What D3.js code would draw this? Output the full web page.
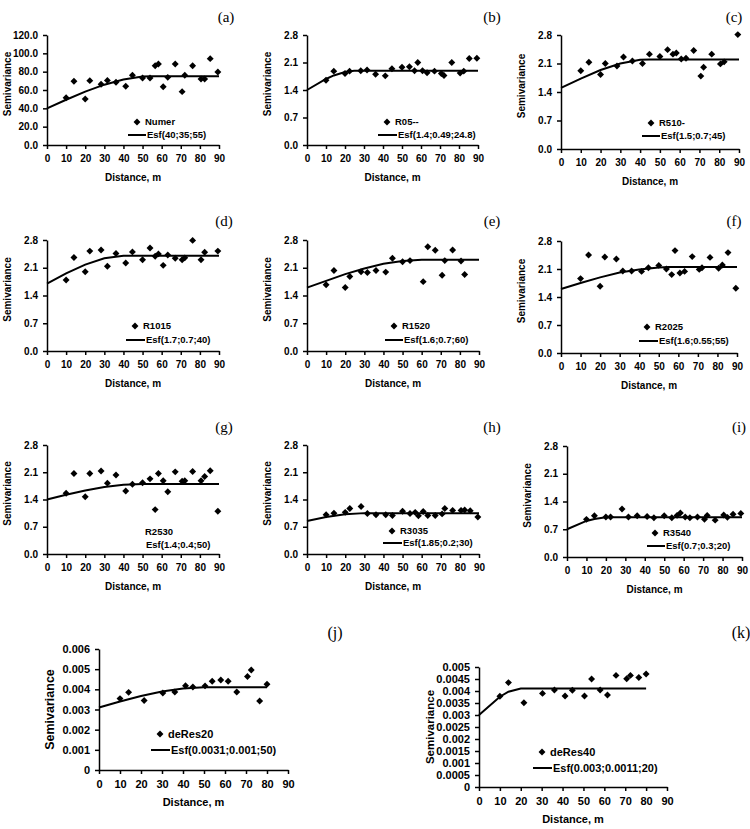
<!DOCTYPE html>
<html>
<head>
<meta charset="utf-8">
<script src="https://cdn.jsdelivr.net/npm/d3@7"></script>
<style>
  body { margin: 0; background: #fff; }
  .axis path, .axis line { stroke: #000; stroke-width: 1.5; }
  .axis text { font-weight: bold; fill: #000; }
</style>
</head>
<body>
<div id="chart"></div>
<script>
// lag distances (m)
const lags = [10, 14.1, 20, 22.4, 28.3, 31.6, 36.1, 41.2, 44.7, 50, 53.9, 56.6, 58.3, 60.8, 63.2, 67.1, 70.7, 72.1, 76.2, 80.6, 82.5, 85.4, 89.4];
const lagsNo85 = [10, 14.1, 20, 22.4, 28.3, 31.6, 36.1, 41.2, 44.7, 50, 53.9, 56.6, 58.3, 60.8, 63.2, 67.1, 70.7, 72.1, 76.2, 80.6, 82.5, 89.4];
const lagsE = [10, 14.1, 20, 22.4, 28.3, 31.6, 36.1, 41.2, 44.7, 50, 53.9, 60.8, 63.2, 67.1, 70.7, 72.1, 76.2, 80.6, 82.5];
const lagsRes = [10, 14.1, 21.5, 30.4, 36.1, 41.2, 44.7, 50.5, 53.9, 58, 61.5, 65.6, 70.7, 72.5, 76.5, 80];

// experimental semivariances
const gamA = [51.6, 69.5, 50.2, 70.2, 66.2, 70.5, 68.4, 64.0, 76.0, 73.1, 73.1, 86.5, 88.4, 63.6, 73.8, 88.4, 58.2, 76.0, 86.5, 72.0, 72.0, 94.2, 79.6];
const gamB = [1.65, 1.88, 1.82, 1.88, 1.89, 1.91, 1.80, 1.76, 1.94, 1.98, 1.99, 1.89, 2.10, 1.89, 1.84, 1.88, 1.82, 1.77, 2.10, 1.83, 1.88, 2.20, 2.21];
const gamC = [1.92, 2.13, 1.83, 2.10, 2.04, 2.26, 2.16, 2.10, 2.33, 2.27, 2.44, 2.33, 2.36, 2.21, 2.23, 2.42, 1.79, 2.01, 2.33, 2.09, 2.14, 2.81];
const gamD = [1.79, 2.36, 2.00, 2.52, 2.55, 2.14, 2.46, 2.22, 2.50, 2.30, 2.60, 2.39, 2.45, 2.16, 2.42, 2.34, 2.30, 2.35, 2.79, 2.30, 2.49, 2.52];
const gamE = [1.67, 2.03, 1.60, 1.88, 2.00, 1.98, 2.03, 1.99, 2.34, 2.25, 2.28, 1.75, 2.63, 2.54, 1.91, 2.28, 2.55, 2.27, 1.93];
const gamF = [1.86, 2.45, 1.67, 2.40, 2.35, 2.05, 2.05, 2.04, 2.13, 2.19, 2.10, 1.96, 2.56, 2.00, 2.04, 2.41, 2.09, 2.13, 2.39, 2.12, 2.20, 2.51, 1.62];
const gamG = [1.56, 2.07, 1.47, 2.07, 2.13, 1.82, 2.03, 1.62, 1.79, 1.83, 1.93, 1.14, 2.07, 1.88, 1.60, 2.11, 1.87, 1.88, 2.12, 1.88, 1.99, 2.14, 1.10];
const gamH = [1.01, 1.05, 1.07, 1.17, 1.22, 1.04, 1.01, 1.01, 0.99, 1.10, 1.04, 1.07, 0.98, 1.09, 0.99, 0.99, 1.03, 1.17, 1.12, 1.12, 1.13, 1.11, 0.95];
const gamI = [0.95, 1.04, 1.01, 1.01, 1.21, 1.01, 1.04, 1.02, 0.99, 1.04, 0.99, 1.05, 1.11, 1.01, 0.99, 1.01, 0.95, 1.05, 0.93, 1.06, 1.00, 1.08, 1.10];
const gamJ = [0.00354, 0.00385, 0.00345, 0.00382, 0.00387, 0.00418, 0.00412, 0.00417, 0.00440, 0.00446, 0.00440, 0.00387, 0.00464, 0.00496, 0.00342, 0.00425];
const gamK = [0.00378, 0.00435, 0.00351, 0.00390, 0.00404, 0.00379, 0.00403, 0.00379, 0.00450, 0.00404, 0.00383, 0.00465, 0.00451, 0.00465, 0.00456, 0.00471];

// fitted model lines (vertices)
const fitXA = [0, 10, 20, 30, 40, 50, 55, 90];
const fitYA = [40, 49.4, 58.2, 65.8, 71.5, 74.6, 75, 75];
const fitXB = [0, 10, 14.1, 20, 24.8, 90];
const fitYB = [1.4, 1.68, 1.77, 1.86, 1.89, 1.89];
const fitXC = [0, 10, 20, 30, 40, 45, 90];
const fitYC = [1.5, 1.73, 1.94, 2.10, 2.19, 2.2, 2.2];
const fitXD = [0, 10, 20, 30, 40, 90];
const fitYD = [1.7, 1.96, 2.18, 2.34, 2.4, 2.4];
const fitXE = [0, 10, 20, 30, 40, 50, 60, 90];
const fitYE = [1.6, 1.77, 1.94, 2.08, 2.20, 2.27, 2.3, 2.3];
const fitXF = [0, 10, 20, 30, 40, 50, 55, 90];
const fitYF = [1.6, 1.75, 1.89, 2.01, 2.09, 2.14, 2.15, 2.15];
const fitXG = [0, 10, 20, 30, 40, 50, 90];
const fitYG = [1.4, 1.52, 1.63, 1.72, 1.78, 1.8, 1.8];
const fitXH = [0, 10, 20, 30, 90];
const fitYH = [0.85, 0.95, 1.02, 1.05, 1.05];
const fitXI = [0, 10, 14.1, 20, 90];
const fitYI = [0.7, 0.91, 0.96, 1.0, 1.0];
const fitXJ = [0, 10, 20, 30, 40, 50, 80];
const fitYJ = [0.0031, 0.0034, 0.00367, 0.00389, 0.00404, 0.0041, 0.0041];
const fitXK = [0, 10, 14.1, 20, 80];
const fitYK = [0.003, 0.00376, 0.00397, 0.0041, 0.0041];

// ticks and labels
const xTicks = [0, 10, 20, 30, 40, 50, 60, 70, 80, 90];
const yTicksA = [0, 20, 40, 60, 80, 100, 120];
const yTicksR = [0, 0.7, 1.4, 2.1, 2.8];
const yTicksJ = [0, 0.001, 0.002, 0.003, 0.004, 0.005, 0.006];
const yTicksK = [0, 0.0005, 0.001, 0.0015, 0.002, 0.0025, 0.003, 0.0035, 0.004, 0.0045, 0.005];
const seriesNames = ["Numer", "R05--", "R510-", "R1015", "R1520", "R2025", "R2530", "R3035", "R3540", "deRes20", "deRes40"];
const fitNames = ["Esf(40;35;55)", "Esf(1.4;0.49;24.8)", "Esf(1.5;0.7;45)", "Esf(1.7;0.7;40)", "Esf(1.6;0.7;60)",
  "Esf(1.6;0.55;55)", "Esf(1.4;0.4;50)", "Esf(1.85;0.2;30)", "Esf(0.7;0.3;20)", "Esf(0.0031;0.001;50)", "Esf(0.003;0.0011;20)"];
const panelTags = ["(a)", "(b)", "(c)", "(d)", "(e)", "(f)", "(g)", "(h)", "(i)", "(j)", "(k)"];

const fmt1 = d => d.toFixed(1);
const fmtG = d => d === 0 ? "0" : String(+d.toFixed(4));

// layout per panel
const geo = [
  {l: 47, r: 219, t: 35, b: 145, tag: [226, 22], leg: [137, 122, 128, 146, 135]},
  {l: 307, r: 478, t: 35, b: 145, tag: [492, 22], leg: [387, 122, 378, 397, 135]},
  {l: 561, r: 739, t: 35, b: 149, tag: [734, 22], leg: [651, 123, 642, 660, 136]},
  {l: 47, r: 219, t: 240, b: 351, tag: [224, 226], leg: [135, 326, 126, 145, 340]},
  {l: 307, r: 479, t: 240, b: 351, tag: [492, 226], leg: [394, 326, 385, 403, 340]},
  {l: 561, r: 737, t: 241, b: 353, tag: [734, 226], leg: [647, 327, 639, 658, 341]},
  {l: 47, r: 219, t: 445, b: 554, tag: [224, 432], leg: [null, 532, 145, 145, 545]},
  {l: 307, r: 479, t: 445, b: 554, tag: [492, 432], leg: [392, 531, 383, 402, 543]},
  {l: 567, r: 742, t: 446, b: 557, tag: [739, 432], leg: [655, 533, 647, 665, 546]},
  {l: 99, r: 288, t: 649, b: 770, tag: [335, 638], leg: [160, 734, 151, 170, 750], big: true},
  {l: 479, r: 667, t: 667, b: 787, tag: [741, 638], leg: [542, 752, 533, 552, 768], big: true}
];

const dists = [lags, lags, lagsNo85, lagsNo85, lagsE, lags, lags, lags, lags, lagsRes, lagsRes];
const gams = [gamA, gamB, gamC, gamD, gamE, gamF, gamG, gamH, gamI, gamJ, gamK];
const fitXs = [fitXA, fitXB, fitXC, fitXD, fitXE, fitXF, fitXG, fitXH, fitXI, fitXJ, fitXK];
const fitYs = [fitYA, fitYB, fitYC, fitYD, fitYE, fitYF, fitYG, fitYH, fitYI, fitYJ, fitYK];
const yTickSets = [yTicksA, yTicksR, yTicksR, yTicksR, yTicksR, yTicksR, yTicksR, yTicksR, yTicksR, yTicksJ, yTicksK];
const yFormats = [fmt1, fmt1, fmt1, fmt1, fmt1, fmt1, fmt1, fmt1, fmt1, fmtG, fmtG];

const svg = d3.select("#chart")
  .append("svg")
  .attr("width", 750)
  .attr("height", 829)
  .style("font-family", "Arial, 'Liberation Sans', sans-serif");

const marker = d3.symbol().type(d3.symbolSquare).size(24);

geo.forEach((p, i) => {
  const yTicks = yTickSets[i];
  const x = d3.scaleLinear().domain([0, 90]).range([p.l, p.r]);
  const y = d3.scaleLinear().domain([0, yTicks[yTicks.length - 1]]).range([p.b, p.t]);
  const tickFont = p.big ? 11 : 10;
  const legFont = p.big ? 11 : 9.5;

  const g = svg.append("g");

  g.append("g")
    .attr("class", "axis")
    .attr("transform", `translate(0,${p.b})`)
    .call(d3.axisBottom(x).tickValues(xTicks).tickSize(4).tickPadding(6).tickSizeOuter(0))
    .selectAll("text").style("font-size", tickFont + "px");

  g.append("g")
    .attr("class", "axis")
    .attr("transform", `translate(${p.l},0)`)
    .call(d3.axisLeft(y).tickValues(yTicks).tickFormat(yFormats[i]).tickSize(4).tickPadding(5).tickSizeOuter(0))
    .selectAll("text").style("font-size", tickFont + "px");

  // axis titles
  g.append("text")
    .attr("x", (p.l + p.r) / 2)
    .attr("y", p.b + 36)
    .attr("text-anchor", "middle")
    .style("font-size", (p.big ? 11 : 10) + "px")
    .style("font-weight", "bold")
    .text("Distance, m");

  const titleY = p.big ? (p.t + p.b) / 2 : (p.t + p.b) / 2 - 6;
  const titleX = p.l - (p.big ? 49 : 40);
  g.append("text")
    .attr("transform", `translate(${titleX},${titleY}) rotate(-90)`)
    .attr("text-anchor", "middle")
    .attr("dy", "0.35em")
    .style("font-size", (i === 9 ? 12.5 : p.big ? 11.5 : 10) + "px")
    .style("font-weight", "bold")
    .text("Semivariance");

  // panel tag
  g.append("text")
    .attr("x", p.tag[0])
    .attr("y", p.tag[1])
    .attr("text-anchor", "middle")
    .style("font-family", "'Liberation Serif', 'Times New Roman', serif")
    .style("font-size", (p.big ? 16 : 15) + "px")
    .text(panelTags[i]);

  // fitted model line
  const fit = fitXs[i].map((d, k) => [d, fitYs[i][k]]);
  g.append("path")
    .datum(fit)
    .attr("fill", "none")
    .attr("stroke", "#000")
    .attr("stroke-width", 2)
    .attr("d", d3.line().x(d => x(d[0])).y(d => y(d[1])));

  // experimental points
  const pts = dists[i].map((d, k) => [d, gams[i][k]]);
  g.selectAll(".pt")
    .data(pts)
    .enter().append("path")
    .attr("d", marker)
    .attr("transform", d => `translate(${x(d[0])},${y(d[1])}) rotate(45)`)
    .attr("fill", "#000");

  // legend
  const [mx, my, lx1, lx2, ly] = p.leg;
  if (mx !== null) {
    g.append("path")
      .attr("d", marker)
      .attr("transform", `translate(${mx},${my}) rotate(45)`)
      .attr("fill", "#000");
    g.append("line")
      .attr("x1", lx1).attr("x2", lx2)
      .attr("y1", ly).attr("y2", ly)
      .attr("stroke", "#000")
      .attr("stroke-width", 2);
  }
  g.append("text")
    .attr("x", mx !== null ? mx + 8 : lx1)
    .attr("y", my)
    .attr("dy", "0.35em")
    .style("font-size", legFont + "px")
    .style("font-weight", "bold")
    .text(seriesNames[i]);
  g.append("text")
    .attr("x", lx2 + 1)
    .attr("y", ly)
    .attr("dy", "0.35em")
    .style("font-size", legFont + "px")
    .style("font-weight", "bold")
    .text(fitNames[i]);
});
</script>
</body>
</html>
